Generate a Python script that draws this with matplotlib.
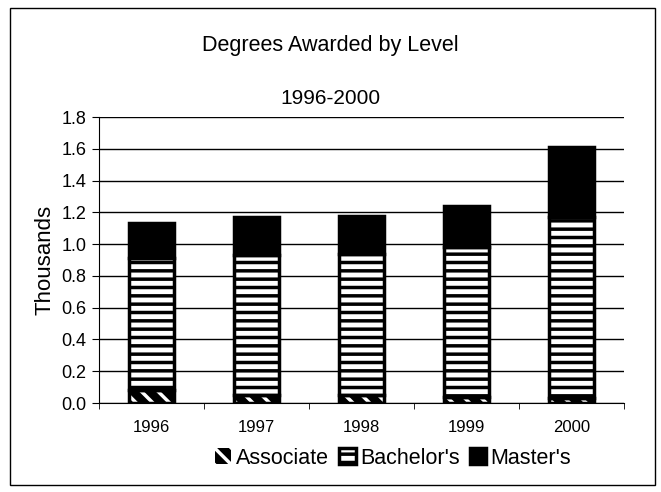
import matplotlib
matplotlib.use("Agg")
import matplotlib.pyplot as plt
import numpy as np

plt.rcParams['font.family'] = ['Liberation Sans', 'DejaVu Sans']
plt.rcParams['hatch.linewidth'] = 2.5

years = ['1996', '1997', '1998', '1999', '2000']
associate = [0.08, 0.05, 0.05, 0.04, 0.03]
bachelor = [0.83, 0.88, 0.89, 0.94, 1.14]
master = [0.22, 0.24, 0.24, 0.26, 0.44]

fig = plt.figure(figsize=(6.61, 4.92), dpi=100)
ax = fig.add_axes([99 / 661, 1 - 403 / 492, 525 / 661, 286 / 492])

# outer frame
fig.patches.append(plt.Rectangle((10 / 661, 1 - 485 / 492), 645 / 661, 477 / 492,
                                 transform=fig.transFigure, fill=False,
                                 edgecolor='black', linewidth=1.0))

x = np.arange(len(years))
w = 0.43
bot2 = np.array(associate) + np.array(bachelor)
ax.bar(x, associate, w, color='black', edgecolor='white', hatch='\\\\',
       linewidth=0, label='Associate', zorder=3)
ax.bar(x, associate, w, fill=False, edgecolor='black', linewidth=2.5, zorder=4)
ax.bar(x, bachelor, w, bottom=associate, color='white', edgecolor='black',
       hatch='--', linewidth=2.5, label="Bachelor's", zorder=3)
ax.bar(x, master, w, bottom=bot2, color='black', edgecolor='black',
       linewidth=2.5, label="Master's", zorder=3)

ax.set_xlim(-0.5, 4.5)
ax.set_ylim(0, 1.8)
ticks = np.arange(0, 1.81, 0.2)
ax.set_yticks(ticks)
ax.set_yticklabels([f'{v:.1f}' for v in ticks], fontsize=13)
ax.set_xticks(x)
ax.set_xticklabels(years, fontsize=12)
ax.set_xticks(np.arange(-0.5, 4.6, 1), minor=True)
ax.tick_params(axis='x', which='major', length=0, pad=12)
ax.tick_params(axis='x', which='minor', length=4, direction='out')
ax.tick_params(axis='y', length=5, direction='out', pad=4)
ax.yaxis.grid(True, color='black', linewidth=1)
ax.set_axisbelow(True)
for s in ['top', 'right']:
    ax.spines[s].set_visible(False)
ax.set_ylabel('Thousands', fontsize=16, labelpad=4)

fig.text(0.5, 1 - 45 / 492, 'Degrees Awarded by Level', ha='center', va='center', fontsize=15.5)
fig.text(0.5, 1 - 98 / 492, '1996-2000', ha='center', va='center', fontsize=15)

fig.legend(loc='center', bbox_to_anchor=(0.595, 1 - 458 / 492), ncol=3, frameon=False,
           fontsize=15.5, handlelength=0.75, handleheight=0.75, handletextpad=0.2,
           columnspacing=0.5)

fig.savefig('out.png', dpi=100)
